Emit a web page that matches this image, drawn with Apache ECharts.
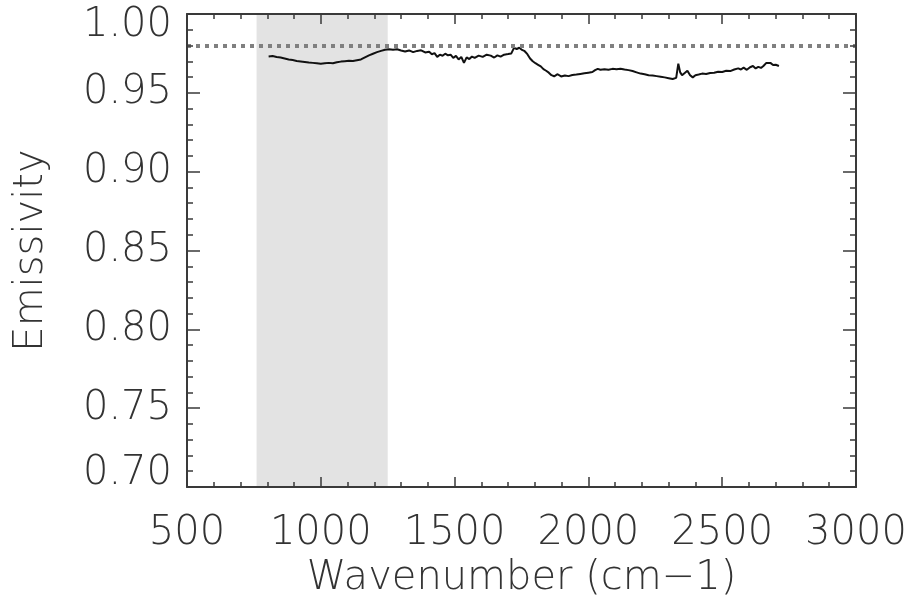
<!DOCTYPE html>
<html>
<head>
<meta charset="utf-8">
<script src="https://cdn.jsdelivr.net/npm/echarts@6/dist/echarts.min.js"></script>
<style>
html,body{margin:0;padding:0;background:#fff;}
#chart{width:914px;height:607px;}
</style>
</head>
<body>
<div id="chart"></div>
<script>
const wavenumber = [805,820,835,850,865,880,895,910,925,940,955,970,985,1000,1015,1030,1045,1060,1075,1090,1105,1120,1135,1150,1165,1180,1195,1210,1225,1240,1255,1270,
1285,1300,1315,1330,1345,1360,1375,1390,1405,1415,1425,1435,1445,1455,1465,1475,1485,1495,1505,1515,1525,1535,1545,1555,1565,1575,1590,1605,1620,1635,1648,1660,1672,1685,1700,1712,1722,1732,1742,1752,1762,1772,1782,1792,1802,1812,1822,1832,1842,1852,1862,1872,1885,1898,1912,1926,1940,1955,1970,1985,2000,2015,2025,2035,2045,2060,2075,2090,2105,2120,2135,2150,2165,2180,2195,2210,2225,2240,2255,2270,2285,2300,2315,2328,2336,2343,2350,2360,2370,2380,2390,2400,2412,2425,2440,2455,2470,2485,2500,2515,2530,2545,2560,2570,2580,2592,2604,2615,2625,2635,2645,2655,2665,2672,2680,2690,2700,2712];
const emissivity = [0.9730,0.9733,0.9727,0.9724,0.9718,0.9712,0.9708,0.9702,0.9699,0.9696,0.9692,0.9690,0.9688,0.9684,0.9687,0.9690,0.9688,0.9694,0.9698,0.9701,0.9704,0.9702,0.9707,0.9712,0.9725,0.9738,0.9748,0.9758,0.9766,0.9773,0.9777,0.9773,
0.9776,0.9768,0.9762,0.9769,0.9758,0.9766,0.9770,0.9756,0.9761,0.9745,0.9752,0.9728,0.9742,0.9735,0.9748,0.9738,0.9742,0.9722,0.9734,0.9712,0.9728,0.9690,0.9725,0.9714,0.9730,0.9722,0.9736,0.9728,0.9742,0.9736,0.9724,0.9738,0.9730,0.9742,0.9746,0.9750,0.9785,0.9778,0.9786,0.9772,0.9764,0.9745,0.9718,0.9700,0.9688,0.9678,0.9668,0.9650,0.9640,0.9628,0.9612,0.9605,0.9618,0.9604,0.9610,0.9606,0.9613,0.9616,0.9620,0.9624,0.9628,0.9632,0.9644,0.9652,0.9646,0.9650,0.9646,0.9652,0.9649,0.9653,0.9648,0.9644,0.9638,0.9630,0.9622,0.9618,0.9612,0.9610,0.9606,0.9602,0.9598,0.9593,0.9588,0.9595,0.9685,0.9630,0.9612,0.9626,0.9640,0.9612,0.9598,0.9612,0.9616,0.9622,0.9620,0.9626,0.9628,0.9634,0.9632,0.9640,0.9638,0.9648,0.9655,0.9648,0.9660,0.9646,0.9662,0.9670,0.9655,0.9665,0.9658,0.9672,0.9690,0.9678,0.9690,0.9676,0.9678,0.9670];
const bandRange = [760, 1250];
const referenceLevel = 0.98;
const xTicks = {min: 500, max: 3000, interval: 500};
const yTicks = {min: 0.70, max: 1.00, interval: 0.05};
const xTitle = 'Wavenumber (cm\u22121)';
const yTitle = 'Emissivity';

const FONT = '"DejaVu Sans", sans-serif';
const FS = 40;
const TXT = '#333';
const AX = '#3a3a3a';

const chart = echarts.init(document.getElementById('chart'), null, {renderer: 'canvas'});

function axisBase(show, isX) {
  return {
    type: 'value',
    z: 10,
    axisLine: {show: true, onZero: false, lineStyle: {color: AX, width: 2}},
    axisTick: {show: true, inside: true, length: isX ? 10 : 13, lineStyle: {color: AX, width: 1.5}},
    minorTick: {show: true, splitNumber: 5, length: isX ? 5 : 6, lineStyle: {color: AX, width: 1.5}},
    splitLine: {show: false},
    axisLabel: {show: show},
  };
}

const labelFont = {fontFamily: FONT, fontSize: FS, fontWeight: 200, color: TXT};

const option = {
  backgroundColor: '#fff',
  animation: false,
  grid: {left: 187, right: 58, top: 14, bottom: 120, containLabel: false},
  xAxis: [
    Object.assign(axisBase(true, true), {
      position: 'bottom',
      min: xTicks.min, max: xTicks.max, interval: xTicks.interval,
      name: xTitle, nameLocation: 'middle', nameGap: 72,
      nameTextStyle: labelFont,
      axisLabel: Object.assign({show: true, margin: 27, formatter: v => String(v)}, labelFont)
    }),
    Object.assign(axisBase(false, true), {
      position: 'top',
      min: xTicks.min, max: xTicks.max, interval: xTicks.interval
    })
  ],
  yAxis: [
    Object.assign(axisBase(true, false), {
      position: 'left',
      min: yTicks.min, max: yTicks.max, interval: yTicks.interval,
      name: yTitle, nameLocation: 'middle', nameGap: 135,
      nameTextStyle: labelFont,
      axisLabel: Object.assign({show: true, margin: 15,
        formatter: v => {
          const s = v.toFixed(2);
          if (Math.abs(v - yTicks.max) < 1e-9) return '{top|' + s + '}';
          if (Math.abs(v - yTicks.min) < 1e-9) return '{bot|' + s + '}';
          return s;
        },
        rich: {
          top: Object.assign({padding: [24, 0, 0, 0]}, labelFont),
          bot: Object.assign({padding: [0, 0, 26, 0]}, labelFont)
        }
      }, labelFont)
    }),
    Object.assign(axisBase(false, false), {
      position: 'right',
      min: yTicks.min, max: yTicks.max, interval: yTicks.interval
    })
  ],
  series: [{
    type: 'line',
    xAxisIndex: 0, yAxisIndex: 0,
    data: wavenumber.map((w, i) => [w, emissivity[i]]),
    showSymbol: false,
    symbol: 'none',
    lineStyle: {color: '#111', width: 2},
    z: 3,
    markArea: {
      silent: true,
      itemStyle: {color: '#e3e3e3'},
      data: [[{xAxis: bandRange[0]}, {xAxis: bandRange[1]}]]
    },
    markLine: {
      silent: true,
      symbol: ['none', 'none'],
      label: {show: false},
      lineStyle: {color: '#808080', width: 4, type: [4, 5], cap: 'butt'},
      data: [{yAxis: referenceLevel}]
    }
  }]
};
chart.setOption(option);
</script>
</body>
</html>
